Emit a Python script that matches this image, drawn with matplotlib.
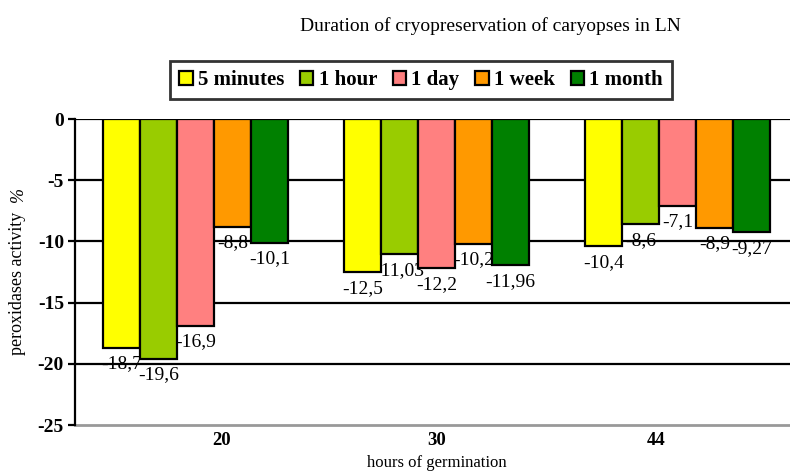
import matplotlib
matplotlib.use('Agg')
import matplotlib.pyplot as plt
import numpy as np

hours = ['20', '30', '44']
durations = ['5 minutes', '1 hour', '1 day', '1 week', '1 month']
values = [
    [-18.7, -12.5, -10.4],    # 5 minutes
    [-19.6, -11.03, -8.6],    # 1 hour
    [-16.9, -12.2, -7.1],     # 1 day
    [-8.8, -10.2, -8.9],      # 1 week
    [-10.1, -11.96, -9.27],   # 1 month
]
colors = ['#FFFF00', '#99CC00', '#FF8080', '#FF9900', '#008000']

plt.rcParams['font.family'] = ['Liberation Serif', 'DejaVu Serif']

fig = plt.figure(figsize=(7.9, 4.71), dpi=100)
ax = fig.add_axes([75 / 790, 46 / 471, 723 / 790, 306 / 471])

x = np.arange(len(hours))
width = 0.1535
n = len(durations)

for i, (name, vals, c) in enumerate(zip(durations, values, colors)):
    pos = x + (i - (n - 1) / 2) * width
    bars = ax.bar(pos, vals, width, color=c, edgecolor='black', linewidth=1.6,
                  label=name, zorder=3 + 2 * i)
    # data labels, each series drawn just above its own bars
    for b, v in zip(bars, vals):
        txt = ('%g' % v).replace('.', ',')
        ax.annotate(txt, (b.get_x() + b.get_width() / 2, v),
                    xytext=(0, -5.5), textcoords='offset points',
                    ha='center', va='top', fontsize=14, zorder=4 + 2 * i)

ax.set_ylim(-25, 0)
ax.set_xlim(-0.5, 2.5)
ax.set_yticks(np.arange(-25, 1, 5))
ax.set_yticklabels([str(t) for t in range(-25, 1, 5)], fontweight='bold', fontsize=14)

# tick labels sit a bit off the bar groups in the original
tick_shift = [0.11, 0.0, -0.09]
ax.set_xticks(x + np.array(tick_shift))
ax.set_xticklabels(hours, fontweight='bold', fontsize=13.5)
ax.tick_params(axis='x', length=0, pad=5)
ax.tick_params(axis='y', length=5, width=1.6, pad=3, direction='out')

for yv in range(-20, 1, 5):
    ax.axhline(yv, color='black', linewidth=1.6, zorder=1)

ax.spines['top'].set_visible(False)
ax.spines['right'].set_visible(False)
ax.spines['left'].set_linewidth(1.6)
ax.spines['left'].set_zorder(20)
ax.spines['bottom'].set_color('#999999')
ax.spines['bottom'].set_linewidth(2)

fig.text(490 / 790, 1 - 26 / 471, 'Duration of cryopreservation of caryopses in LN',
         ha='center', va='center', fontsize=14)
fig.text(437 / 790, 1 - 463 / 471, 'hours of germination',
         ha='center', va='center', fontsize=12)
fig.text(18 / 790, 1 - 283 / 471, 'peroxidases activity', rotation=90,
         ha='center', va='center', fontsize=13)
fig.text(18 / 790, 1 - 195 / 471, '%', rotation=90, style='italic',
         ha='center', va='center', fontsize=13)

leg = fig.legend(loc='center', bbox_to_anchor=(421 / 790, 1 - 80 / 471), ncol=5,
                 prop={'weight': 'bold', 'size': 15}, frameon=True, fancybox=False,
                 handlelength=0.65, handleheight=0.65, handletextpad=0.25,
                 columnspacing=0.75, borderpad=0.45, borderaxespad=0)
leg.get_frame().set_edgecolor('black')
leg.get_frame().set_linewidth(2)

fig.savefig('out.png', dpi=100)
